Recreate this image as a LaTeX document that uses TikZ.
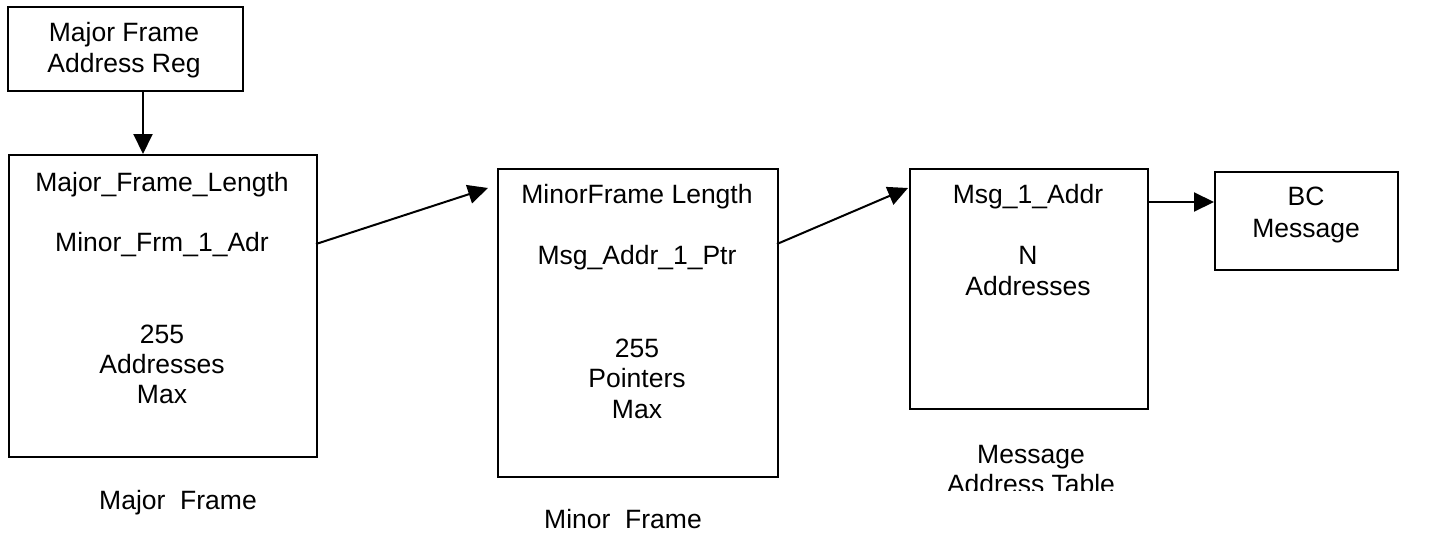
\documentclass[tikz,border=0pt]{standalone}
\usepackage{fontspec}
\setmainfont{Liberation Sans}
\usetikzlibrary{arrows.meta}
\begin{document}
\begin{tikzpicture}[x=1pt,y=-1pt,
  box/.style={draw=black,line width=2pt,inner sep=0pt,anchor=north west},
  txt/.style={anchor=base,inner sep=0pt,font=\fontsize{26.5}{30}\selectfont},
  arr/.style={line width=2pt,-{Triangle[length=20pt,width=19pt]}}]
\useasboundingbox (0,0) rectangle (1429,535);
% boxes
\node[box,minimum width=235pt,minimum height=84pt] (reg) at (7,6) {};
\node[box,minimum width=308pt,minimum height=302pt] (major) at (8,154) {};
\node[box,minimum width=280pt,minimum height=308pt] (minor) at (497,168) {};
\node[box,minimum width=238pt,minimum height=240pt] (table) at (909,168) {};
\node[box,minimum width=183pt,minimum height=98pt] (bc) at (1214,171) {};
% texts
\node[txt] (t1a) at (124,42) {Major Frame};
\node[txt] (t1b) at (124,72) {Address Reg};
\node[txt] (t2) at (162,191) {Major\_Frame\_Length};
\node[txt] (t3) at (162,251) {Minor\_Frm\_1\_Adr};
\node[txt] (t4a) at (162,343) {255};
\node[txt] (t4b) at (162,373) {Addresses};
\node[txt] (t4c) at (162,403) {Max};
\node[txt] (t5) at (178,509) {Major\ \ Frame};
\node[txt] (t6) at (637,203) {MinorFrame Length};
\node[txt] (t7) at (637,264) {Msg\_Addr\_1\_Ptr};
\node[txt] (t8a) at (637,357) {255};
\node[txt] (t8b) at (637,387) {Pointers};
\node[txt] (t8c) at (637,418) {Max};
\node[txt] (t9) at (623,528) {Minor\ \ Frame};
\node[txt] (t10) at (1028,203) {Msg\_1\_Addr};
\node[txt] (t11a) at (1028,264) {N};
\node[txt] (t11b) at (1028,295) {Addresses};
\node[txt] (t12a) at (1031,463) {Message};
\begin{scope}
\clip (0,0) rectangle (1429,490);
\node[txt] (t12b) at (1031,493) {Address Table};
\end{scope}
\node[txt] (t13a) at (1306,205) {BC};
\node[txt] (t13b) at (1306,237) {Message};
% connectors
\coordinate (a1) at (143,90);
\coordinate (a2s) at (316,244);
\coordinate (a2e) at (488,188);
\coordinate (a3s) at (777,244);
\coordinate (a3e) at (908,188);
\coordinate (a4s) at (1147,202);
\draw[arr] (a1) -- (a1 |- major.north);
\draw[arr] (a2s) -- (a2e);
\draw[arr] (a3s) -- (a3e);
\draw[arr] (a4s) -- (a4s -| bc.west);
\end{tikzpicture}
\end{document}
